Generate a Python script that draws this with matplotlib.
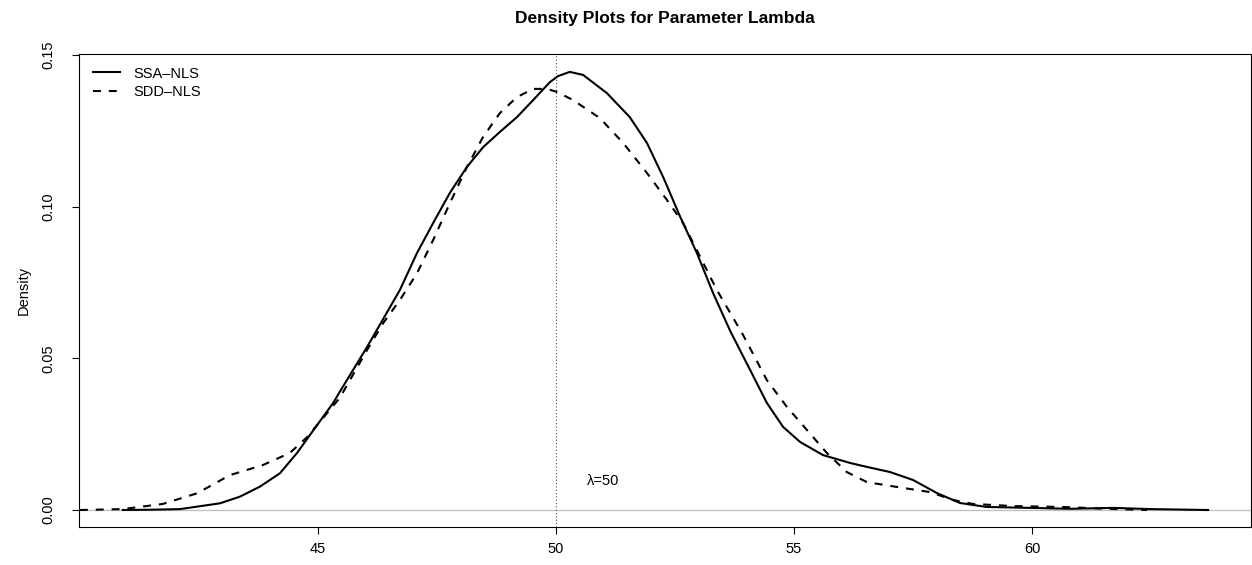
import matplotlib.pyplot as plt
from matplotlib.lines import Line2D

plt.rcParams['font.family'] = ['Liberation Sans', 'DejaVu Sans']

# SSA-NLS density estimate
ssa_x = [40.90, 41.50, 42.10, 42.94, 43.36, 43.78, 44.20, 44.56, 44.89, 45.32,
         45.46, 46.03, 46.72, 47.08, 47.42, 47.77, 48.13, 48.47, 48.82, 49.18,
         49.52, 49.87, 50.04, 50.29, 50.57, 51.07, 51.55, 51.91, 52.25, 52.61,
         52.96, 53.30, 53.66, 54.08, 54.43, 54.77, 55.13, 55.61, 56.18, 56.45,
         57.02, 57.50, 58.00, 58.49, 59.05, 59.96, 60.80, 61.70, 62.50, 63.70]
ssa_y = [0.0000, 0.0001, 0.0003, 0.0022, 0.0044, 0.0077, 0.0121, 0.0188, 0.0260, 0.0353,
         0.0390, 0.0537, 0.0725, 0.0847, 0.0946, 0.1045, 0.1131, 0.1196, 0.1246, 0.1295,
         0.1351, 0.1410, 0.1430, 0.1444, 0.1434, 0.1374, 0.1295, 0.1210, 0.1098, 0.0966,
         0.0847, 0.0715, 0.0590, 0.0461, 0.0353, 0.0274, 0.0224, 0.0181, 0.0155, 0.0145,
         0.0125, 0.0099, 0.0056, 0.0023, 0.0010, 0.0007, 0.0004, 0.0007, 0.0003, 0.0000]

# SDD-NLS density estimate
sdd_x = [40.00, 40.90, 41.74, 42.46, 43.15, 43.84, 44.41, 44.77, 45.46, 46.03,
         46.37, 46.72, 47.08, 47.42, 47.77, 48.13, 48.47, 48.82, 49.18, 49.52,
         49.81, 50.02, 50.36, 50.92, 51.41, 51.91, 52.33, 52.67, 53.03, 53.38,
         53.93, 54.43, 54.85, 55.27, 55.69, 56.11, 56.53, 57.16,
         57.86, 58.34, 58.76, 59.60, 60.65, 61.40, 62.42]
sdd_y = [0.0000, 0.0003, 0.0020, 0.0055, 0.0115, 0.0148, 0.0188, 0.0240, 0.0370, 0.0527,
         0.0616, 0.0692, 0.0780, 0.0890, 0.1011, 0.1131, 0.1230, 0.1308, 0.1361, 0.1388,
         0.1388, 0.1378, 0.1351, 0.1292, 0.1210, 0.1111, 0.1022, 0.0946, 0.0834, 0.0725,
         0.0577, 0.0428, 0.0340, 0.0264, 0.0188, 0.0125, 0.0092, 0.0076,
         0.0059, 0.0033, 0.0020, 0.0013, 0.0010, 0.0005, 0.0000]

true_lambda = 50
labels = ['SSA\u2013NLS', 'SDD\u2013NLS']
xticks = [45, 50, 55, 60]
yticks = [0.00, 0.05, 0.10, 0.15]

fig = plt.figure(figsize=(12.52, 5.65), dpi=100)
ax = fig.add_axes([79 / 1252, 1 - 527 / 565, 1172 / 1252, 473 / 565])

ax.axhline(0, color='#bebebe', lw=0.9, zorder=1)
ax.plot(ssa_x, ssa_y, color='black', lw=1.5, zorder=3)
ax.plot(sdd_x, sdd_y, color='black', lw=1.5, ls=(0, (3.8, 3.8)), zorder=3)
ax.axvline(true_lambda, color='0.3', lw=0.8, ls=(0, (1, 2)), zorder=2)
ax.text(51, 0.0095, '\u03bb=50', fontsize=10.5, ha='center', va='center')

ax.set_xlim(39.98, 64.60)
ax.set_ylim(-0.0056, 0.1503)
ax.set_xticks(xticks)
ax.set_xticklabels([str(t) for t in xticks])
ax.set_yticks(yticks)
ax.set_yticklabels(['%.2f' % t for t in yticks], rotation=90, va='center')
ax.tick_params(length=5, width=0.8, labelsize=10.5)
ax.tick_params(axis='x', pad=6)
ax.tick_params(axis='y', pad=12)
for s in ax.spines.values():
    s.set_linewidth(0.8)

ax.set_ylabel('Density', fontsize=10.5, labelpad=8)
ax.set_title('Density Plots for Parameter Lambda', fontsize=12.5, fontweight='bold', pad=22)

handles = [Line2D([], [], color='black', lw=1.5),
           Line2D([], [], color='black', lw=1.5, ls=(0, (3.8, 3.8)))]
ax.legend(handles, labels, loc='upper left', bbox_to_anchor=(0.003, 0.995), frameon=False,
          fontsize=10.5, handlelength=1.9, handletextpad=0.9, labelspacing=0.3,
          borderaxespad=0.3)

fig.savefig('out.png', dpi=100)
